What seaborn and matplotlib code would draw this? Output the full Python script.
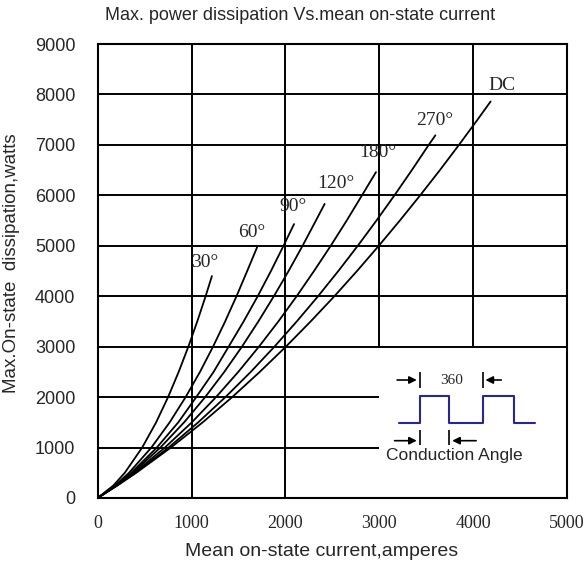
import numpy as np
import matplotlib
matplotlib.use("Agg")
import matplotlib.pyplot as plt
import seaborn as sns
import pandas as pd

# curves: mean current (A) vs max power dissipation (W)
curve_names = ["30°", "60°", "90°", "120°", "180°", "270°", "DC"]
current_30  = [0, 168, 289, 474, 623, 750, 863, 966, 1061, 1150, 1217]
power_30    = [0, 250, 500, 1000, 1500, 2000, 2500, 3000, 3500, 4000, 4400]
current_60  = [0, 186, 334, 572, 767, 937, 1090, 1229, 1358, 1479, 1593, 1705]
power_60    = [0, 250, 500, 1000, 1500, 2000, 2500, 3000, 3500, 4000, 4500, 5000]
current_90  = [0, 195, 358, 630, 859, 1050, 1235, 1395, 1555, 1705, 1846, 1980, 2092]
power_90    = [0, 250, 500, 1000, 1500, 2000, 2500, 3000, 3500, 4000, 4500, 5000, 5430]
current_120 = [0, 200, 373, 668, 921, 1145, 1349, 1537, 1712, 1877, 2034, 2183, 2325, 2418]
power_120   = [0, 250, 500, 1000, 1500, 2000, 2500, 3000, 3500, 4000, 4500, 5000, 5500, 5830]
current_180 = [0, 205, 390, 716, 1003, 1261, 1498, 1718, 1925, 2120, 2305, 2483, 2653, 2816, 2965]
power_180   = [0, 250, 500, 1000, 1500, 2000, 2500, 3000, 3500, 4000, 4500, 5000, 5500, 6000, 6460]
current_270 = [0, 209, 403, 755, 1071, 1361, 1631, 1883, 2121, 2348, 2564, 2771, 2970, 3162, 3347,
               3527, 3598]
power_270   = [0, 250, 500, 1000, 1500, 2000, 2500, 3000, 3500, 4000, 4500, 5000, 5500, 6000, 6500,
               7000, 7190]
current_dc  = [0, 211, 411, 780, 1119, 1433, 1727, 2005, 2269, 2522, 2763, 2995, 3219, 3436, 3646,
               3849, 4047, 4186]
power_dc    = [0, 250, 500, 1000, 1500, 2000, 2500, 3000, 3500, 4000, 4500, 5000, 5500, 6000, 6500,
               7000, 7500, 7860]

x_ticks = [0, 1000, 2000, 3000, 4000, 5000]
y_ticks = [0, 1000, 2000, 3000, 4000, 5000, 6000, 7000, 8000, 9000]

frames = []
for name, cur, pw in zip(curve_names,
                         [current_30, current_60, current_90, current_120, current_180, current_270, current_dc],
                         [power_30, power_60, power_90, power_120, power_180, power_270, power_dc]):
    frames.append(pd.DataFrame(dict(current=cur, power=pw, angle=name)))
df = pd.concat(frames, ignore_index=True)

# label offsets from curve end, in pixels
label_offsets = {"30°": (-7, 14), "60°": (-6, 13), "90°": (-1, 18), "120°": (11, 20),
                 "180°": (2, 20), "270°": (-1, 15), "DC": (11, 16)}

sns.set_style("white")
plt.rcParams["font.family"] = ["Liberation Sans", "DejaVu Sans"]

fig = plt.figure(figsize=(5.87, 5.65), dpi=100)
ax = fig.add_axes([0.1664, 0.1186, 0.7995, 0.8035])

ax.set_xlim(0, 5000)
ax.set_ylim(0, 9000)

# grid, leaving the corner for the waveform sketch blank
for gx in [1000, 2000]:
    ax.vlines(gx, 0, 9000, color="black", lw=1.4, zorder=1)
for gx in [3000, 4000]:
    ax.vlines(gx, 3000, 9000, color="black", lw=1.4, zorder=1)
for gy in [1000, 2000]:
    ax.hlines(gy, 0, 3000, color="black", lw=1.4, zorder=1)
for gy in [3000, 4000, 5000, 6000, 7000, 8000]:
    ax.hlines(gy, 0, 5000, color="black", lw=1.4, zorder=1)

for name in curve_names:
    sub = df[df.angle == name]
    sns.lineplot(data=sub, x="current", y="power", color="black", lw=1.3,
                 sort=False, estimator=None, ax=ax, zorder=3)
    ax.annotate(name, (sub.current.iloc[-1], sub.power.iloc[-1]),
                xytext=label_offsets[name], textcoords="offset pixels",
                ha="center", va="center", fontsize=14,
                family=["Liberation Serif", "DejaVu Serif"])

# conduction angle sketch
wave_x = [3209, 3429, 3429, 3748, 3748, 4102, 4102, 4432, 4432, 4655]
wave_y = [1481, 1481, 2022, 2022, 1481, 1481, 2022, 2022, 1481, 1481]
ax.plot(wave_x, wave_y, color="#26269a", lw=1.5, zorder=3)

arrow = dict(arrowstyle="-|>", color="black", lw=1.2, mutation_scale=11, shrinkA=0, shrinkB=0)
for tx in [3429, 4102]:
    ax.vlines(tx, 2181, 2498, color="black", lw=1.2)
ax.annotate("", xy=(3400, 2339), xytext=(3190, 2339), arrowprops=arrow)
ax.annotate("", xy=(4131, 2339), xytext=(4300, 2339), arrowprops=arrow)
ax.text(3769, 2330, "360", ha="center", va="center", fontsize=11,
        family=["Liberation Serif", "DejaVu Serif"])

for tx in [3429, 3748]:
    ax.vlines(tx, 1051, 1348, color="black", lw=1.2)
ax.annotate("", xy=(3400, 1136), xytext=(3163, 1136), arrowprops=arrow)
ax.annotate("", xy=(3777, 1136), xytext=(4032, 1136), arrowprops=arrow)
ax.text(3801, 833, "Conduction Angle", ha="center", va="center", fontsize=12.5)

ax.set_xticks(x_ticks)
ax.set_yticks(y_ticks)
ax.set_xticklabels([str(v) for v in x_ticks], family=["Liberation Serif", "DejaVu Serif"], fontsize=13)
ax.set_yticklabels([str(v) for v in y_ticks], fontsize=13)
ax.tick_params(axis="both", direction="in", length=7, width=1.4, color="black")
ax.tick_params(axis="x", pad=12)
ax.tick_params(axis="y", pad=16)
ax.set_xlabel("")
ax.set_ylabel("")
for sp in ax.spines.values():
    sp.set_color("black")
    sp.set_linewidth(1.5)

fig.text(300 / 587, 1 - 15 / 565, "Max. power dissipation Vs.mean on-state current",
         ha="center", va="center", fontsize=13)
fig.text(322 / 587, 1 - 552 / 565, "Mean on-state current,amperes",
         ha="center", va="center", fontsize=14)
fig.text(12 / 587, 1 - 263 / 565, "Max.On-state  dissipation,watts",
         ha="center", va="center", rotation=90, fontsize=13.5)

plt.savefig("out.png", dpi=100)
